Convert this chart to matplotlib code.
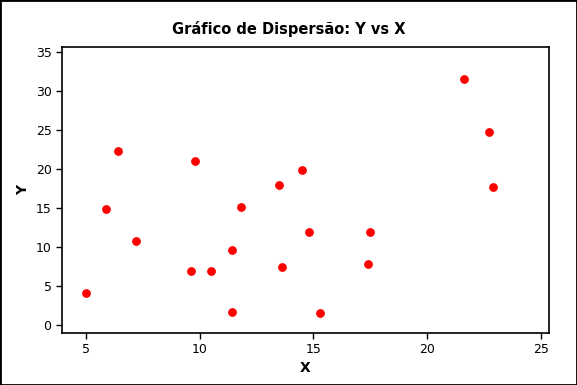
import matplotlib.pyplot as plt
from matplotlib.patches import Rectangle

x = [5.0, 5.9, 6.4, 7.2, 9.6, 9.8, 10.5, 11.4, 11.4, 11.8,
     13.5, 13.6, 14.5, 14.8, 15.3, 17.4, 17.5, 21.6, 22.7, 22.9]
y = [4.1, 14.9, 22.3, 10.8, 7.0, 21.0, 6.9, 1.7, 9.7, 15.1,
     18.0, 7.4, 19.9, 12.0, 1.6, 7.9, 12.0, 31.5, 24.7, 17.7]
xticks = [5, 10, 15, 20, 25]
yticks = [0, 5, 10, 15, 20, 25, 30, 35]

fig = plt.figure(figsize=(5.77, 3.85), dpi=100)
ax = fig.add_axes([0.1075, 0.135, 0.844, 0.743])

ax.scatter(x, y, s=28, color='#ff0000', edgecolors='#ff0000', zorder=3)

ax.set_xlim(3.95, 25.35)
ax.set_ylim(-1.0, 35.65)
ax.set_xticks(xticks)
ax.set_yticks(yticks)
ax.tick_params(direction='out', length=4, width=1, labelsize=9, colors='black')
for s in ax.spines.values():
    s.set_linewidth(1.2)

ax.set_xlabel('X', fontsize=10, fontweight='bold', labelpad=3)
ax.set_ylabel('Y', fontsize=10, fontweight='bold')
ax.yaxis.set_label_coords(-0.066, 0.5)
fig.text(0.5, 0.925, 'Gráfico de Dispersão: Y vs X', ha='center', va='center',
         fontsize=10.5, fontweight='bold')

fig.patches.append(Rectangle((0, 0), 1, 1, transform=fig.transFigure,
                             fill=False, edgecolor='black', linewidth=2))

fig.savefig('out.png', dpi=100)
